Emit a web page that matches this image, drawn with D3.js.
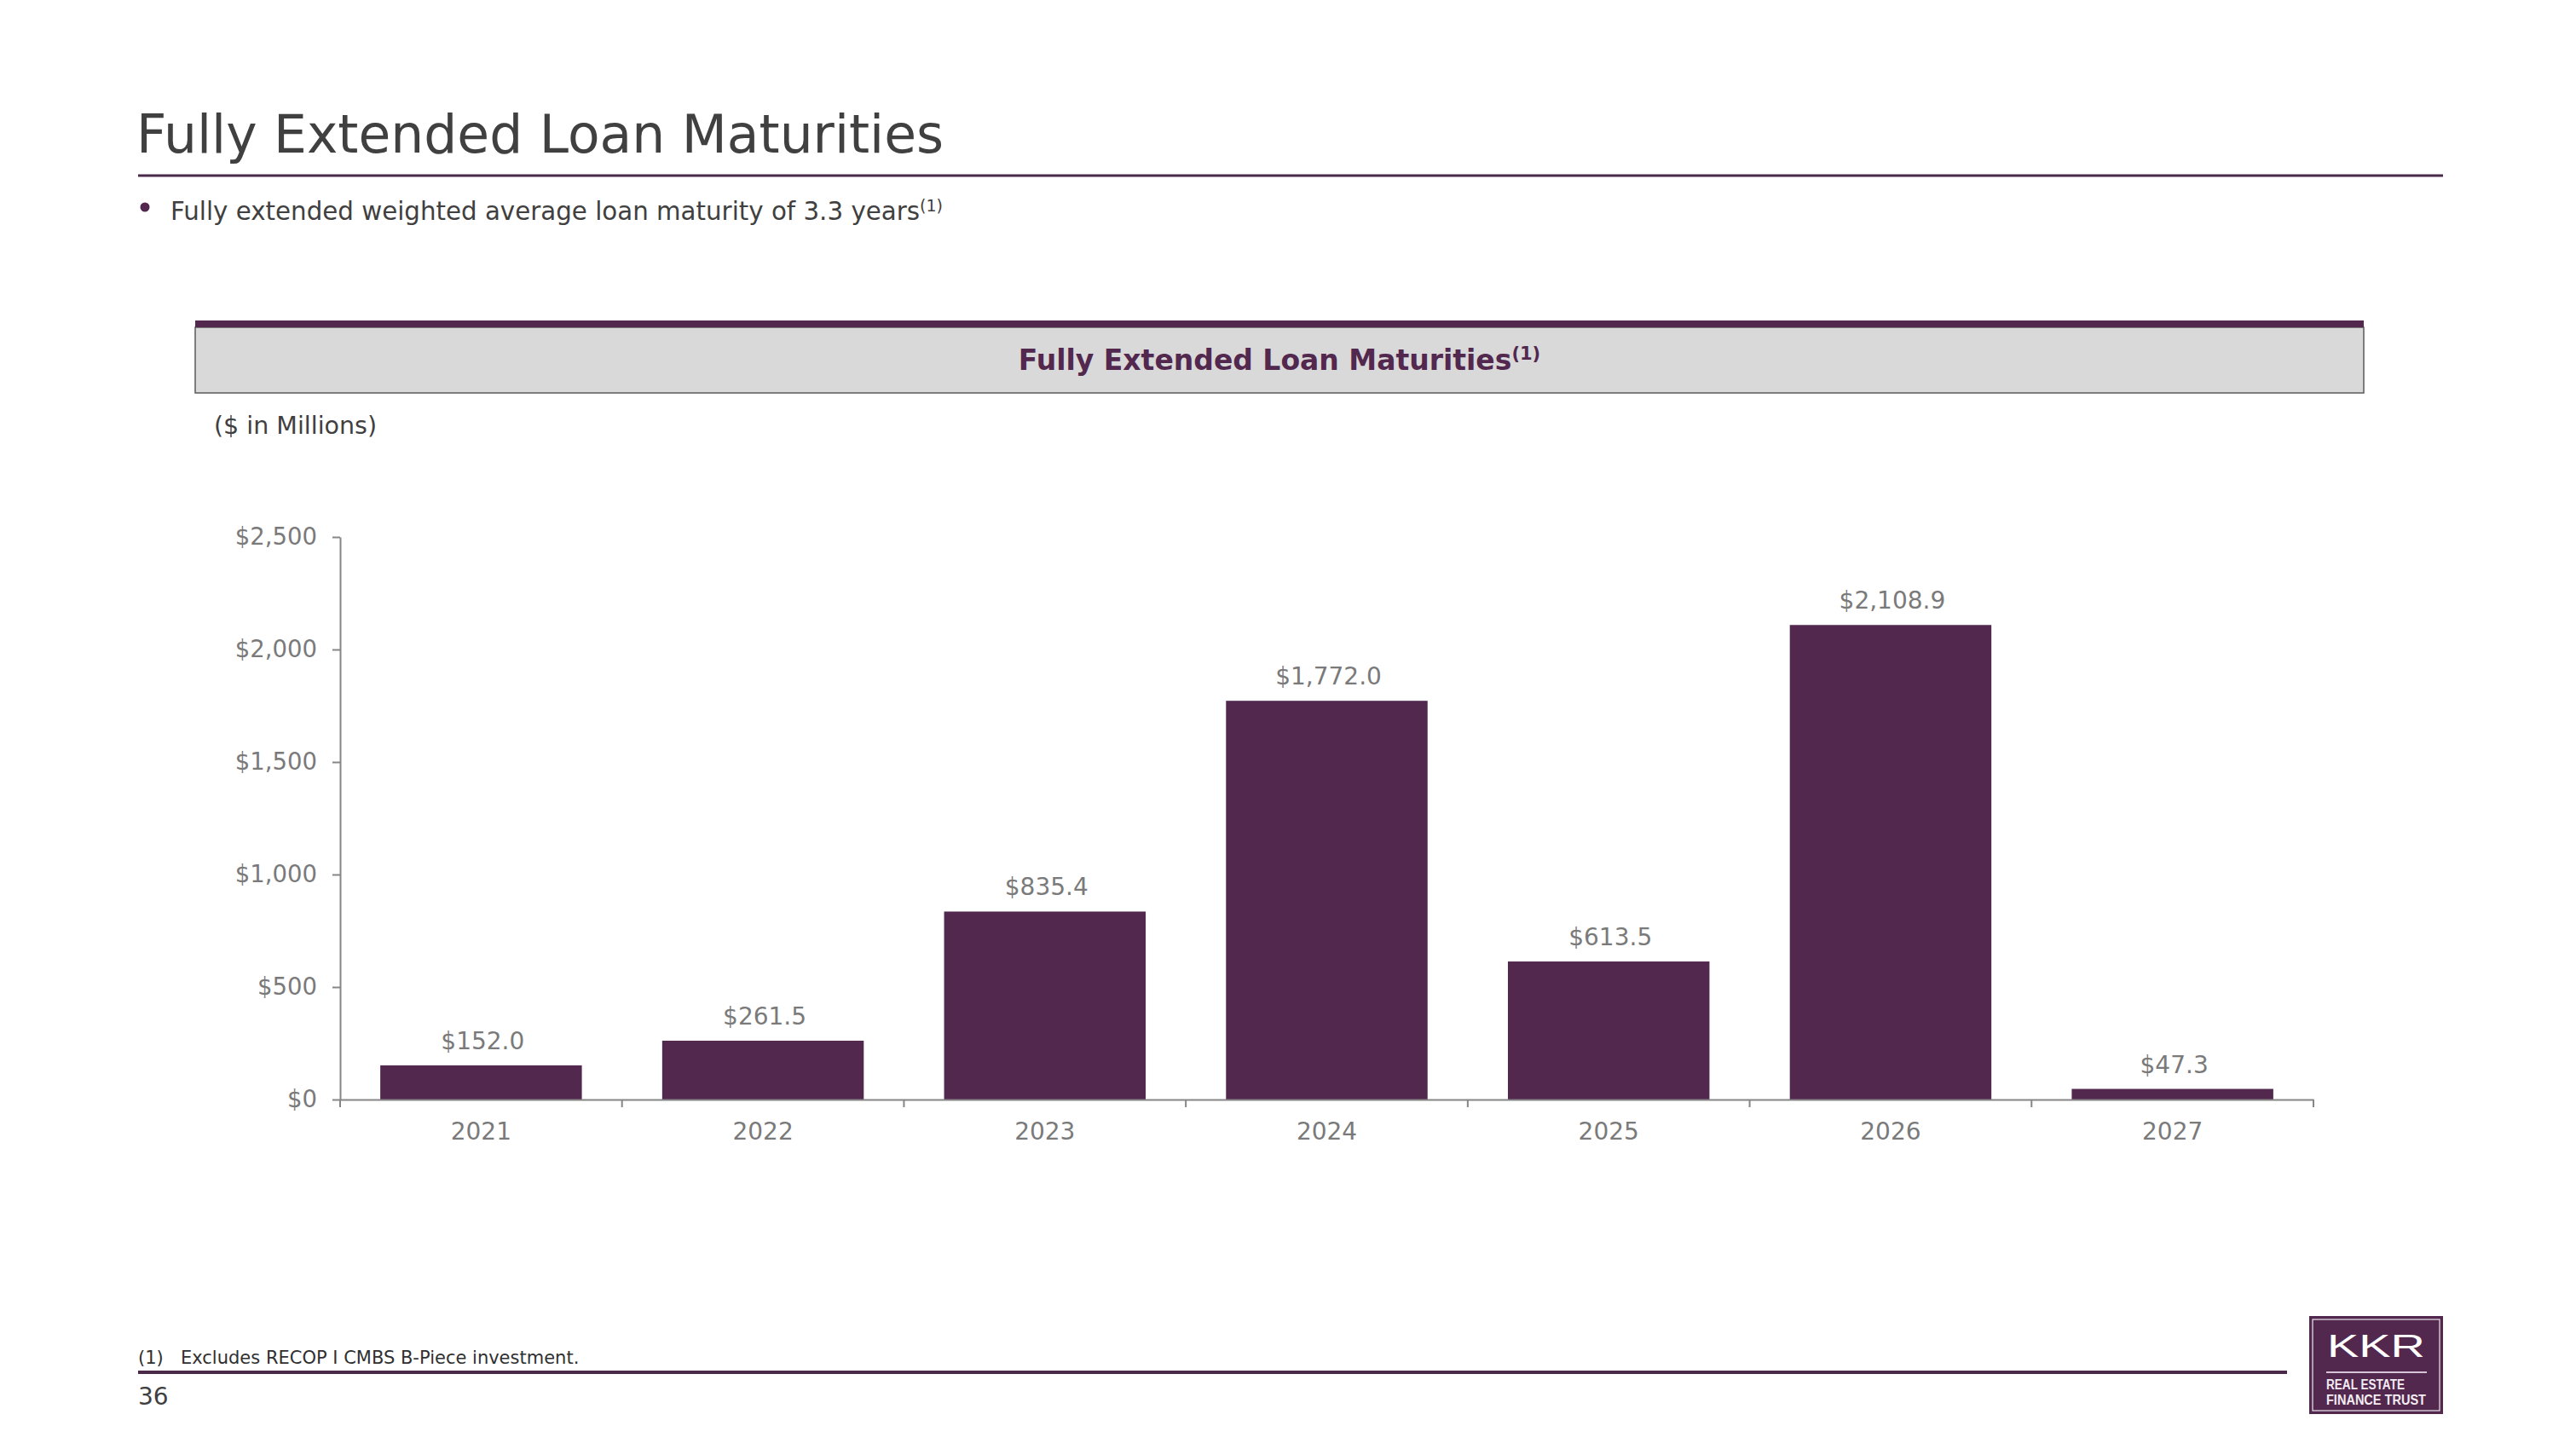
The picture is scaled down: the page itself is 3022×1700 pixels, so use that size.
<!DOCTYPE html>
<html>
<head>
<meta charset="utf-8">
<script src="https://cdn.jsdelivr.net/npm/d3@7"></script>
<style>
  html, body { margin: 0; padding: 0; background: #ffffff; }
  svg { display: block; }
  .vf { font-family: 'DejaVu Sans', Verdana, sans-serif; }
</style>
</head>
<body>
<svg id="chart" width="3022" height="1700"></svg>
<script>
// ---- data ----
const categories = ["2021", "2022", "2023", "2024", "2025", "2026", "2027"];
const values = [152.0, 261.5, 835.4, 1772.0, 613.5, 2108.9, 47.3];
const yTicks = [0, 500, 1000, 1500, 2000, 2500];
const pageTitle = "Fully Extended Loan Maturities";
const bulletText = "Fully extended weighted average loan maturity of 3.3 years";
const chartTitle = "Fully Extended Loan Maturities";
const unitsLabel = "($ in Millions)";
const footnote = "Excludes RECOP I CMBS B-Piece investment.";
const pageNumber = "36";

(function () {
// ---- styles ----
const purple = "#52284f";
const textDark = "#404040";
const axisGray = "#868686";
const labelGray = "#7a7a7a";

const svg = d3.select("#chart");

// Page title
svg.append("text").attr("class", "vf")
  .attr("x", 160).attr("y", 179)
  .attr("font-size", 61.5).attr("fill", textDark)
  .text(pageTitle);
svg.append("line").attr("x1", 162).attr("x2", 2866).attr("y1", 206).attr("y2", 206)
  .attr("stroke", "#4a2a48").attr("stroke-width", 3);

// Bullet
svg.append("circle").attr("cx", 170).attr("cy", 243).attr("r", 5.5).attr("fill", purple);
const bt = svg.append("text").attr("class", "vf")
  .attr("x", 200).attr("y", 258).attr("font-size", 29.3).attr("fill", textDark);
bt.append("tspan").text(bulletText);
bt.append("tspan").attr("font-size", 19).attr("dy", -10).text("(1)");

// Chart header box
svg.append("rect").attr("x", 229).attr("y", 384).attr("width", 2544).attr("height", 77)
  .attr("fill", "#d9d9d9").attr("stroke", "#5a5a5a").attr("stroke-width", 1.5);
svg.append("rect").attr("x", 229).attr("y", 376).attr("width", 2544).attr("height", 8)
  .attr("fill", purple);
const ht = svg.append("text").attr("class", "vf")
  .attr("x", 1501).attr("y", 434).attr("text-anchor", "middle")
  .attr("font-size", 33).attr("font-weight", "bold").attr("fill", purple);
ht.append("tspan").text(chartTitle);
ht.append("tspan").attr("font-size", 21).attr("dy", -12).text("(1)");

svg.append("text").attr("class", "vf")
  .attr("x", 251).attr("y", 509).attr("font-size", 28.5).attr("fill", textDark)
  .text(unitsLabel);

// ---- chart ----
const plotLeft = 399, plotRight = 2714, plotTop = 630, plotBottom = 1290;
const x = d3.scaleBand().domain(categories).range([plotLeft, plotRight])
  .paddingInner(0.285).paddingOuter(0.1425);
const y = d3.scaleLinear().domain([0, 2500]).range([plotBottom, plotTop]);

// bars
svg.append("g").selectAll("rect").data(values).join("rect")
  .attr("x", (d, i) => x(categories[i]))
  .attr("width", x.bandwidth())
  .attr("y", d => y(d))
  .attr("height", d => y(0) - y(d))
  .attr("fill", purple);

// data labels
svg.append("g").selectAll("text").data(values).join("text")
  .attr("class", "vf")
  .attr("x", (d, i) => x(categories[i]) + x.bandwidth() / 2 + 2)
  .attr("y", d => y(d) - 19)
  .attr("text-anchor", "middle")
  .attr("font-size", 28).attr("fill", labelGray)
  .text(d => "$" + d3.format(",.1f")(d));

// y axis
const yAxis = svg.append("g").attr("transform", `translate(${plotLeft},0)`)
  .call(d3.axisLeft(y).tickValues(yTicks)
    .tickFormat(d => "$" + d3.format(",")(d))
    .tickSize(9).tickPadding(18).tickSizeOuter(0));
yAxis.selectAll("path, line").attr("stroke", axisGray).attr("stroke-width", 2);
yAxis.selectAll("text").attr("class", "vf").attr("font-size", 27.5).attr("fill", labelGray);

// x axis
const xAxis = svg.append("g").attr("transform", `translate(0,${plotBottom})`)
  .call(d3.axisBottom(x).tickSize(0).tickPadding(27).tickSizeOuter(0));
xAxis.selectAll("path").attr("stroke", axisGray).attr("stroke-width", 2);
xAxis.selectAll("text").attr("class", "vf").attr("font-size", 28).attr("fill", labelGray);
// boundary ticks between categories
const bounds = d3.range(categories.length + 1).map(i => x.range()[0] + i * x.step());
xAxis.append("g").selectAll("line").data(bounds).join("line")
  .attr("x1", d => d).attr("x2", d => d).attr("y1", 0).attr("y2", 9)
  .attr("stroke", axisGray).attr("stroke-width", 2);

// ---- footer ----
const ft = svg.append("text").attr("class", "vf")
  .attr("x", 162).attr("y", 1600).attr("font-size", 21).attr("fill", "#303030");
ft.append("tspan").text("(1)");
ft.append("tspan").attr("x", 212).text(footnote);
svg.append("line").attr("x1", 162).attr("x2", 2683).attr("y1", 1610).attr("y2", 1610)
  .attr("stroke", "#4a2a48").attr("stroke-width", 4);
svg.append("text").attr("class", "vf")
  .attr("x", 162).attr("y", 1648).attr("font-size", 28).attr("fill", textDark)
  .text(pageNumber);

// logo
const logoFont = "'Liberation Sans', Arial, sans-serif";
const logo = svg.append("g");
logo.append("rect").attr("x", 2709).attr("y", 1544).attr("width", 157).attr("height", 115)
  .attr("fill", purple);
logo.append("rect").attr("x", 2713).attr("y", 1548).attr("width", 149).attr("height", 107)
  .attr("fill", "none").attr("stroke", "#efe6ee").attr("stroke-width", 1.2);
logo.append("text").attr("x", 2730).attr("y", 1592)
  .attr("font-family", logoFont).attr("font-size", 36)
  .attr("fill", "#ffffff").attr("textLength", 115).attr("lengthAdjust", "spacingAndGlyphs")
  .text("KKR");
logo.append("line").attr("x1", 2729).attr("x2", 2847).attr("y1", 1610).attr("y2", 1610)
  .attr("stroke", "#d8c2d5").attr("stroke-width", 2);
logo.append("text").attr("x", 2729).attr("y", 1630)
  .attr("font-family", logoFont).attr("font-size", 16)
  .attr("font-weight", "bold").attr("fill", "#f3ecf2")
  .attr("textLength", 92).attr("lengthAdjust", "spacingAndGlyphs")
  .text("REAL ESTATE");
logo.append("text").attr("x", 2729).attr("y", 1648)
  .attr("font-family", logoFont).attr("font-size", 16)
  .attr("font-weight", "bold").attr("fill", "#f3ecf2")
  .attr("textLength", 117).attr("lengthAdjust", "spacingAndGlyphs")
  .text("FINANCE TRUST");
})();
</script>
</body>
</html>
